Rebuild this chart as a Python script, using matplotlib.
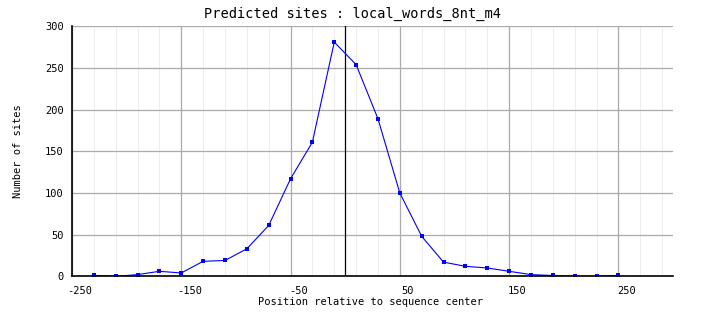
import matplotlib
matplotlib.use('Agg')
import matplotlib.pyplot as plt
import matplotlib.transforms as mtransforms
import numpy as np

# positions relative to sequence center (bin centers)
positions = [-230, -210, -190, -170, -150, -130, -110, -90, -70, -50, -30, -10,
             10, 30, 50, 70, 90, 110, 130, 150, 170, 190, 210, 230, 250]
sites = [1, 0, 2, 6, 4, 18, 19, 33, 61, 117, 161, 281,
         254, 189, 100, 48, 17, 12, 10, 6, 2, 1, 0, 0, 1]

x_ticks = [-250, -150, -50, 50, 150, 250]
y_ticks = [0, 50, 100, 150, 200, 250, 300]

plt.rcParams['font.family'] = ['DejaVu Sans Mono']

fig = plt.figure(figsize=(7.04, 3.28), dpi=100)
W, H = 704, 328
ax = fig.add_axes([72 / W, 1 - 276.3 / H, (673 - 72) / W, (276.3 - 26.3) / H])

ax.set_xlim(-250, 300)
ax.set_ylim(0, 300)

# grid
ax.set_xticks(x_ticks)
ax.set_xticks(np.arange(-250, 301, 20), minor=True)
ax.set_yticks(y_ticks)
ax.grid(which='minor', axis='x', color='#eeeeee', linewidth=0.75)
ax.grid(which='major', color='#aaaaaa', linewidth=0.9)
ax.set_axisbelow(True)

ax.axvline(0, color='black', linewidth=0.9, zorder=2)

ax.plot(positions, sites, color='blue', linewidth=0.8, marker='s',
        markersize=2.6, markeredgewidth=0, zorder=3)

for side in ['top', 'right']:
    ax.spines[side].set_visible(False)
for side in ['left', 'bottom']:
    ax.spines[side].set_color('black')
    ax.spines[side].set_linewidth(1.2)
    ax.spines[side].set_zorder(4)

ax.tick_params(which='both', length=0, labelsize=7.5)
ax.tick_params(axis='x', pad=7)
ax.tick_params(axis='y', pad=6)
ax.set_xticklabels([str(v) for v in x_ticks])
ax.set_yticklabels([str(v) for v in y_ticks])

offset = mtransforms.ScaledTranslation(8 / 100, 0, fig.dpi_scale_trans)
for lab in ax.get_xticklabels():
    lab.set_transform(lab.get_transform() + offset)

fig.text(352 / W, 1 - 14 / H, 'Predicted sites : local_words_8nt_m4',
         ha='center', va='center', fontsize=9.8)
fig.text(371 / W, 1 - 302 / H, 'Position relative to sequence center',
         ha='center', va='center', fontsize=7.5)
fig.text(18 / W, 1 - 151 / H, 'Number of sites', rotation=90,
         ha='center', va='center', fontsize=7.5)

fig.savefig('out.png', dpi=100, facecolor='white')
